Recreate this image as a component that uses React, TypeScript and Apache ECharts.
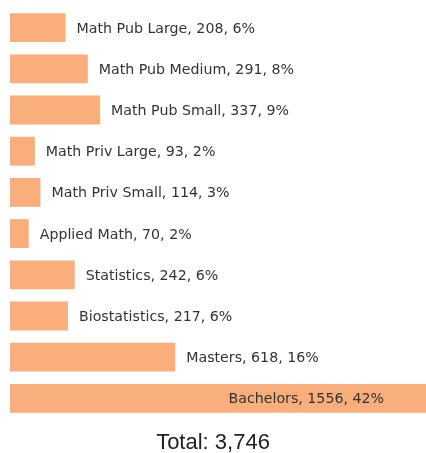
import React, { useEffect, useRef } from "react";
import * as echarts from "echarts";

const categories = [
  "Math Pub Large",
  "Math Pub Medium",
  "Math Pub Small",
  "Math Priv Large",
  "Math Priv Small",
  "Applied Math",
  "Statistics",
  "Biostatistics",
  "Masters",
  "Bachelors",
];
const values = [208, 291, 337, 93, 114, 70, 242, 217, 618, 1556];
const percents = [6, 8, 9, 2, 3, 2, 6, 6, 16, 42];
const totalLabel = "Total: 3,746";

export default function App() {
  const ref = useRef<HTMLDivElement>(null);
  useEffect(() => {
    if (!ref.current) return;
    const chart = echarts.init(ref.current, undefined, { renderer: "svg" });
    const maxVal = Math.max(...values);
    chart.setOption({
      animation: false,
      grid: { left: 10, right: 0, top: 7, bottom: 34, containLabel: false },
      xAxis: { type: "value", min: 0, max: maxVal, show: false },
      yAxis: {
        type: "category",
        data: categories,
        inverse: true,
        show: false,
      },
      title: {
        text: totalLabel,
        left: "center",
        top: 432,
        padding: 0,
        textStyle: {
          fontFamily: "Liberation Sans",
          fontSize: 22,
          lineHeight: 19,
          fontWeight: "normal",
          color: "#222",
        },
      },
      series: [
        {
          type: "bar",
          barCategoryGap: "30%",
          itemStyle: { color: "#f9ae7b" },
          data: values.map((v, i) => {
            const isMax = v === maxVal;
            return {
              value: v,
              label: {
                show: true,
                position: isMax ? "insideRight" : "right",
                distance: isMax ? 42 : 11,
                formatter: `${categories[i]}, ${v}, ${percents[i]}%`,
                fontFamily: "DejaVu Sans",
                fontSize: 14.2,
                color: "#333",
              },
            };
          }),
        },
      ],
    });
    return () => chart.dispose();
  }, []);
  return (
    <div
      ref={ref}
      style={{ position: "fixed", left: 0, top: 0, width: 426, height: 453 }}
    />
  );
}
